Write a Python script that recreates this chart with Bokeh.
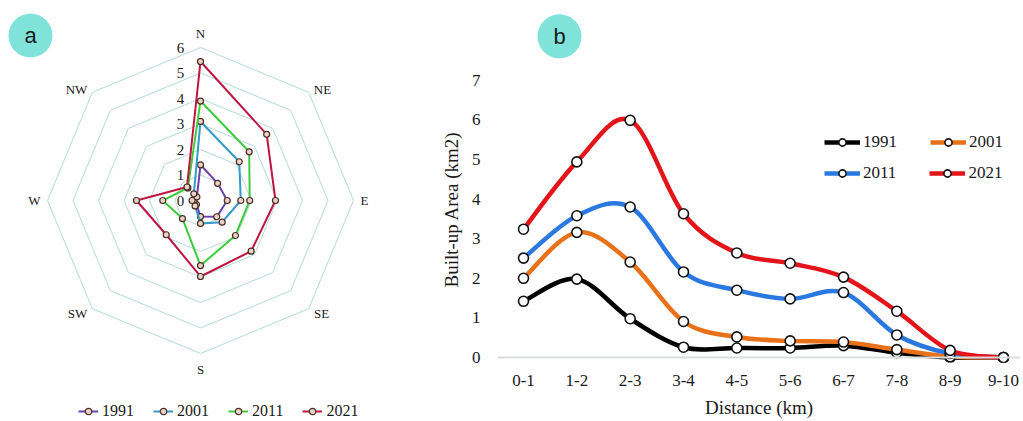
import numpy as np
from bokeh.plotting import figure
from bokeh.layouts import row
from bokeh.models import Range1d, Legend, LegendItem, Span, FixedTicker, Title
from bokeh.core.properties import value
from bokeh.embed import file_html
from bokeh.resources import INLINE

# ---------------- data ----------------
directions = ["N", "NE", "E", "SE", "S", "SW", "W", "NW"]
years = ["1991", "2001", "2011", "2021"]
radar_1991 = [1.4, 0.95, 1.05, 0.9, 0.63, 0.22, 0.25, 0.2]
radar_2001 = [3.1, 2.15, 1.58, 1.2, 0.9, 0.3, 0.33, 0.37]
radar_2011 = [3.9, 2.7, 1.93, 1.94, 2.55, 1.0, 1.48, 0.7]
radar_2021 = [5.45, 3.67, 2.94, 2.81, 2.98, 1.9, 2.51, 0.75]
radar_ticks = [0, 1, 2, 3, 4, 5, 6]

distance = ["0-1", "1-2", "2-3", "3-4", "4-5", "5-6", "6-7", "7-8", "8-9", "9-10"]
area_1991 = [1.42, 1.98, 0.98, 0.26, 0.24, 0.24, 0.30, 0.12, 0.0, 0.0]
area_2001 = [2.0, 3.16, 2.41, 0.91, 0.52, 0.42, 0.39, 0.2, 0.02, 0.0]
area_2011 = [2.51, 3.58, 3.80, 2.16, 1.70, 1.48, 1.64, 0.57, 0.1, 0.0]
area_2021 = [3.24, 4.94, 5.99, 3.63, 2.64, 2.38, 2.03, 1.17, 0.18, 0.0]
area_ticks = [0, 1, 2, 3, 4, 5, 6, 7]

# ---------------- styles ----------------
SERIF = "Liberation Serif"
TXT = "#1a1a1a"
TEAL = "#80e3da"
GRID = "#b3dbd6"
radar_colors = ["#6b3fb0", "#3399c8", "#3ccc3c", "#be1640"]
line_colors = ["#000000", "#e8711a", "#2a78e0", "#e3151a"]
SCALE = 25.5  # px per radar unit
H = 420

# ---------------- radar (a) ----------------
left = figure(width=430, height=H, x_range=Range1d(-200, 230), y_range=Range1d(-(H - 200), 200),
              output_backend="svg", toolbar_location=None, min_border=0,
              x_axis_type=None, y_axis_type=None)
left.frame_align = False
left.grid.visible = False
left.outline_line_color = None

ang = np.deg2rad(90 - 45 * np.arange(len(directions)))
for v in radar_ticks[1:]:
    xs = list(v * SCALE * np.cos(ang)) + [v * SCALE * np.cos(ang[0])]
    ys = list(v * SCALE * np.sin(ang)) + [v * SCALE * np.sin(ang[0])]
    left.line(xs, ys, line_color=GRID, line_width=1)

left.text(x=[-20] * len(radar_ticks), y=[t * SCALE for t in radar_ticks],
          text=[str(t) for t in radar_ticks], text_font=value(SERIF), text_font_size="15px",
          text_align="center", text_baseline="middle", text_color=TXT)

dir_label_xy = [(0, 167), (122, 111), (164, 0), (121, -113), (0, -169), (-123, -113), (-166, 0), (-124, 111)]
left.text(x=[p[0] for p in dir_label_xy], y=[p[1] for p in dir_label_xy], text=directions,
          text_font=value(SERIF), text_font_size="13px", text_align="center",
          text_baseline="middle", text_color=TXT)

radar_items = []
for yr, vals, col in zip(years, [radar_1991, radar_2001, radar_2011, radar_2021], radar_colors):
    vals = np.array(vals)
    xs = vals * SCALE * np.cos(ang)
    ys = vals * SCALE * np.sin(ang)
    lr = left.line(list(xs) + [xs[0]], list(ys) + [ys[0]], line_color=col, line_width=2)
    sr = left.scatter(xs, ys, size=6, fill_color="#e8d3c6", line_color="#4a2e26", line_width=1.2)
    radar_items.append(LegendItem(label=yr, renderers=[lr, sr]))

leg_a = Legend(items=radar_items, orientation="horizontal", location=(78, 0),
               glyph_width=20, glyph_height=16, label_standoff=4, spacing=19, padding=0, margin=0,
               label_text_font=SERIF, label_text_font_size="16px", label_text_color=TXT,
               background_fill_alpha=0, border_line_color=None)
left.add_layout(leg_a)

left.scatter([-170], [165], size=44, fill_color=TEAL, line_color=None)
left.text(x=[-170], y=[165], text=["a"], text_font=value("Liberation Sans"), text_font_size="22px",
          text_align="center", text_baseline="middle", text_color=TXT)

# ---------------- line chart (b) ----------------
right = figure(width=590, height=H, x_range=Range1d(-0.4875, 9.319), y_range=Range1d(-0.126, 9.015),
               output_backend="svg", toolbar_location=None,
               min_border_left=67, min_border_right=0, min_border_top=0, min_border_bottom=57)
right.frame_align = False
right.grid.visible = False
right.outline_line_color = None

xpos = np.arange(len(distance))
right.xaxis.ticker = FixedTicker(ticks=list(range(len(distance))))
right.xaxis.major_label_overrides = {i: d for i, d in enumerate(distance)}
right.yaxis.ticker = FixedTicker(ticks=area_ticks)
for ax in (right.xaxis[0], right.yaxis[0]):
    ax.axis_line_color = None
    ax.major_tick_line_color = None
    ax.minor_tick_line_color = None
    ax.major_label_text_font = SERIF
    ax.major_label_text_font_size = "17px"
    ax.major_label_text_color = TXT
    ax.axis_label_text_font = SERIF
    ax.axis_label_text_font_size = "19px"
    ax.axis_label_text_font_style = "normal"
    ax.axis_label_text_color = TXT
right.xaxis.axis_label = "Distance (km)"
right.xaxis.major_label_standoff = 6
right.xaxis.axis_label_standoff = 8
right.yaxis.major_label_standoff = 11

right.add_layout(Title(text="Built-up Area (km2)", align="left", offset=75, standoff=14,
                       text_font=SERIF, text_font_size="19px", text_font_style="normal",
                       text_color=TXT), "left")

right.add_layout(Span(location=0, dimension="width", line_color="#d9dde0", line_width=2))


def smooth(xs, ys):
    n = len(xs)
    out = {k: [] for k in ["x0", "y0", "x1", "y1", "cx0", "cy0", "cx1", "cy1"]}
    for i in range(n - 1):
        a = max(i - 1, 0)
        d = min(i + 2, n - 1)
        out["x0"].append(xs[i]); out["y0"].append(ys[i])
        out["x1"].append(xs[i + 1]); out["y1"].append(ys[i + 1])
        out["cx0"].append(xs[i] + (xs[i + 1] - xs[a]) / 6)
        out["cy0"].append(ys[i] + (ys[i + 1] - ys[a]) / 6)
        out["cx1"].append(xs[i + 1] - (xs[d] - xs[i]) / 6)
        out["cy1"].append(ys[i + 1] - (ys[d] - ys[i]) / 6)
    return out


items_b = []
for yr, vals, col in zip(years, [area_1991, area_2001, area_2011, area_2021], line_colors):
    vals = np.array(vals, dtype=float)
    seg = smooth(xpos.astype(float), vals)
    right.bezier(line_color=col, line_width=4.5, **seg)
    dummy = right.line(x=[np.nan, np.nan], y=[np.nan, np.nan], line_color=col, line_width=4.5)
    sc = right.scatter(xpos, vals, size=10, fill_color="white", line_color="#111111", line_width=1.6)
    items_b.append(LegendItem(label=yr, renderers=[dummy, sc]))

for its, yloc in [(items_b[:2], 210), (items_b[2:], 179)]:
    lg = Legend(items=its, orientation="horizontal", location=(327, yloc),
                glyph_width=36, glyph_height=18, label_standoff=3, spacing=33, padding=0, margin=0,
                label_text_font=SERIF, label_text_font_size="17px", label_text_color=TXT,
                background_fill_alpha=0, border_line_color=None)
    right.add_layout(lg)

right.scatter([0.675], [8.11], size=44, fill_color=TEAL, line_color=None)
right.text(x=[0.675], y=[8.11], text=["b"], text_font=value("Liberation Sans"), text_font_size="22px",
           text_align="center", text_baseline="middle", text_color=TXT)

layout = row(left, right)
open("out.html", "w").write(file_html(layout, INLINE))
